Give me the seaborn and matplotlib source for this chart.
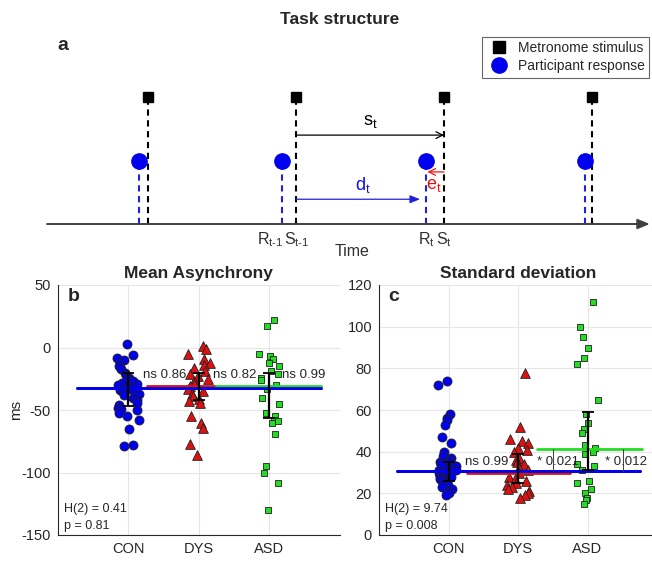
import numpy as np
import pandas as pd
import matplotlib
matplotlib.use("Agg")
import matplotlib.pyplot as plt
import seaborn as sns
from matplotlib.lines import Line2D

# ---------------- data ----------------
groups = ["CON", "DYS", "ASD"]
group_colors = ["#0000ee", "#dd1111", "#22dd22"]
group_markers = ["o", "^", "s"]
group_sizes = [6.5, 7.0, 5.0]

asyn_con = [3, -6, -8, -10, -12, -15, -17, -20, -22, -24, -25, -27, -28, -29, -30, -31,
            -32, -33, -34, -35, -36, -37, -38, -40, -42, -44, -46, -48, -49, -50, -52,
            -55, -58, -65, -78, -79]
asyn_dys = [1, -1, -5, -9, -12, -14, -16, -19, -21, -23, -25, -27, -29, -31, -33, -35,
            -37, -39, -41, -43, -44, -55, -60, -64, -77, -86]
asyn_asd = [22, 17, -5, -7, -9, -12, -15, -19, -21, -24, -26, -30, -33, -40, -45, -52,
            -55, -58, -59, -60, -69, -95, -100, -108, -130]

sd_con = [74, 72, 58, 56, 55, 53, 47, 44, 40, 38, 37, 36, 35, 35, 34, 33, 33, 32, 31,
          31, 30, 30, 29, 29, 28, 28, 27, 27, 26, 25, 24, 23, 22, 21, 20, 19]
sd_dys = [78, 52, 46, 45, 44, 42, 41, 40, 37, 36, 35, 34, 32, 31, 30, 28, 27, 26, 25,
          24, 23, 22, 21, 20, 19, 18]
sd_asd = [112, 100, 95, 90, 85, 82, 65, 58, 54, 51, 49, 43, 42, 40, 39, 34, 33, 31,
          26, 25, 22, 20, 18, 17, 15]

asyn_level = [-32, -30.5, -30.5]
asyn_err_low = [-47, -42, -56]
asyn_err_high = [-20, -20, -20]
asyn_tests = ["ns 0.86", "ns 0.82", "ns 0.99"]
asyn_stat = ["H(2) = 0.41", "p = 0.81"]

sd_level = [30.5, 30.0, 41.5]
sd_err_low = [26, 25, 31]
sd_err_high = [35, 39, 59]
sd_tests = ["ns 0.99", "* 0.021", "* 0.012"]
sd_stat = ["H(2) = 9.74", "p = 0.008"]

# schematic (panel a)
stim_times = [1, 2, 3, 4]
resp_times = [0.94, 1.905, 2.878, 3.953]

# ---------------- style ----------------
sns.set_theme(style="whitegrid")
plt.rcParams["font.family"] = ["Liberation Sans", "DejaVu Sans"]
plt.rcParams["mathtext.fontset"] = "custom"
plt.rcParams["mathtext.rm"] = "Liberation Sans"
plt.rcParams["mathtext.it"] = "Liberation Sans"
plt.rcParams["axes.unicode_minus"] = False

W, H = 652, 561
fig = plt.figure(figsize=(W / 100, H / 100), dpi=100)
fig.patch.set_facecolor("white")

def fx(px):
    return px / W

def fy(py):
    return 1 - py / H

# ---------------- panel a ----------------
axa = fig.add_axes([0, fy(255), 1, (255 - 30) / H])
axa.set_xlim(0, 4.405)
axa.set_ylim(-0.488, 3.055)
axa.axis("off")

for t in stim_times:
    axa.plot([t, t], [0, 2], color="black", lw=1.5, dashes=(3, 2.2), zorder=2)
    axa.plot([t], [2], marker="s", color="black", ms=7.5, zorder=3)
for t in resp_times:
    axa.plot([t, t], [0, 1], color="#2020dd", lw=1.5, dashes=(3, 2.2), zorder=2)
    axa.plot([t], [1], marker="o", color="#0000ee", ms=11, zorder=3)

axa.annotate("", xy=(4.39, 0), xytext=(0.318, 0),
             arrowprops=dict(arrowstyle="-|>,head_length=0.6,head_width=0.25",
                             lw=1.4, color="#404040", shrinkA=0, shrinkB=0))
# s_t
axa.annotate("", xy=(stim_times[2], 1.40), xytext=(stim_times[1], 1.40),
             arrowprops=dict(arrowstyle="->", lw=0.9, color="black", shrinkA=0, shrinkB=0))
axa.text(2.5, 1.48, r"$s_t$", ha="center", va="bottom", fontsize=13, color="black")
# d_t
axa.annotate("", xy=(resp_times[2] - 0.04, 0.39), xytext=(stim_times[1], 0.39),
             arrowprops=dict(arrowstyle="-|>,head_length=0.5,head_width=0.2", lw=0.9,
                             color="#2020dd", shrinkA=0, shrinkB=0))
axa.text(2.45, 0.45, r"$d_t$", ha="center", va="bottom", fontsize=13, color="#1010ee")
# e_t
axa.annotate("", xy=(resp_times[2] + 0.01, 0.82), xytext=(stim_times[2], 0.82),
             arrowprops=dict(arrowstyle="->", lw=0.9, color="#ee1111", shrinkA=0, shrinkB=0))
axa.text(2.93, 0.74, r"$e_t$", ha="center", va="top", fontsize=13, color="#ee1111")

axa.text(stim_times[1] - 0.085, -0.1, r"$R_{t\text{-}1}$", ha="right", va="top", fontsize=11.5, color="#303030")
axa.text(stim_times[1] - 0.08, -0.1, r"$S_{t\text{-}1}$", ha="left", va="top", fontsize=11.5, color="#303030")
axa.text(resp_times[2], -0.1, r"$R_t$", ha="center", va="top", fontsize=11.5, color="#303030")
axa.text(stim_times[2], -0.1, r"$S_t$", ha="center", va="top", fontsize=11.5, color="#303030")
axa.text(2.38, -0.44, "Time", ha="center", va="center", fontsize=11.5, color="#303030")

fig.text(fx(340), fy(19), "Task structure", ha="center", va="center",
         fontsize=12.5, fontweight="bold")
fig.text(fx(57), fy(46), "a", ha="left", va="center", fontsize=14, fontweight="bold")

handles = [Line2D([], [], marker="s", color="black", ls="none", ms=8),
           Line2D([], [], marker="o", color="#0000ee", ls="none", ms=11)]
leg = fig.legend(handles, ["Metronome stimulus", "Participant response"],
                 loc="upper right", bbox_to_anchor=(fx(649), fy(37)),
                 fontsize=10, frameon=True, fancybox=False, edgecolor="#404040",
                 borderpad=0.3, handletextpad=0.5, labelspacing=0.3, handlelength=1.8,
                 borderaxespad=0)
leg.get_frame().set_linewidth(0.8)

# ---------------- panels b and c ----------------
def draw_panel(ax, values, level, err_low, err_high, spans, tests, test_pos, test_y,
               stat, letter, title, ylim, yticks, cmp_lines=None, seed=3):
    rows = []
    for g, vals in zip(groups, values):
        for v in vals:
            rows.append({"group": g, "value": v})
    df = pd.DataFrame(rows)
    np.random.seed(seed)
    for g, c, m, s in zip(groups, group_colors, group_markers, group_sizes):
        sns.stripplot(data=df[df["group"] == g], x="group", y="value", order=groups,
                      marker=m, color=c, size=s, jitter=0.16, linewidth=0.6,
                      edgecolor="#202020", ax=ax, zorder=3)
    for (x0, x1), lv, c in zip(spans, level, group_colors):
        ax.plot([x0, x1], [lv, lv], color=c, lw=2.0, zorder=4)
    ax.plot([spans[0][0], spans[0][1]], [level[0], level[0]], color=group_colors[0], lw=2.0, zorder=4)
    if cmp_lines is not None:
        for xv in cmp_lines:
            ax.plot([xv, xv], [level[0], level[2]], color="#404040", lw=0.7, zorder=4)
    xs = np.arange(len(groups))
    mids = [(a + b) / 2 for a, b in zip(err_low, err_high)]
    halves = [(b - a) / 2 for a, b in zip(err_low, err_high)]
    ax.errorbar(xs, mids, yerr=halves, fmt="none", ecolor="black", elinewidth=1.6,
                capsize=4.5, capthick=1.3, zorder=5)
    for txt, xp in zip(tests, test_pos):
        ax.text(xp, test_y, txt, ha="left", va="center", fontsize=9.5, color="#262626", zorder=6)
    ax.text(0.02, 0.105, stat[0], transform=ax.transAxes, ha="left", va="center",
            fontsize=9, color="#262626")
    ax.text(0.02, 0.035, stat[1], transform=ax.transAxes, ha="left", va="center",
            fontsize=9, color="#262626")
    ax.text(0.035, 0.955, letter, transform=ax.transAxes, ha="left", va="center",
            fontsize=14, fontweight="bold")
    ax.set_xlim(-1, 3)
    ax.set_ylim(*ylim)
    ax.set_yticks(yticks)
    ax.set_xticks(xs)
    ax.set_xticklabels(groups)
    ax.set_xlabel("")
    ax.set_ylabel("")
    ax.set_title(title, fontsize=12.5, fontweight="bold", pad=5)
    ax.grid(True, color="#e6e6e6", lw=0.8)
    ax.set_axisbelow(True)
    for sp in ["top", "right"]:
        ax.spines[sp].set_visible(False)
    for sp in ["left", "bottom"]:
        ax.spines[sp].set_color("#262626")
        ax.spines[sp].set_linewidth(0.8)
    ax.tick_params(axis="both", labelsize=10.5, colors="#262626", length=3,
                   direction="in", pad=5)

axb = fig.add_axes([fx(58), fy(535), (339.5 - 58) / W, (535 - 285) / H])
axb.set_facecolor("white")
draw_panel(axb, [asyn_con, asyn_dys, asyn_asd], asyn_level, asyn_err_low, asyn_err_high,
           [(-0.73, 2.74), (0.26, 1.25), (1.25, 2.74)], asyn_tests, [0.21, 1.2, 2.19], -22,
           asyn_stat, "b", "Mean Asynchrony", (-150, 50), [-150, -100, -50, 0, 50], seed=1)
axb.set_ylabel("ms", fontsize=11, color="#262626")
axb.yaxis.set_label_coords(-0.125, 0.5)

axc = fig.add_axes([fx(379), fy(535), (657 - 379) / W, (535 - 285) / H])
axc.set_facecolor("white")
draw_panel(axc, [sd_con, sd_dys, sd_asd], sd_level, sd_err_low, sd_err_high,
           [(-0.74, 2.75), (0.27, 1.75), (1.27, 2.78)], sd_tests, [0.24, 1.27, 2.25], 35,
           sd_stat, "c", "Standard deviation", (0, 120), [0, 20, 40, 60, 80, 100, 120],
           cmp_lines=[1.5, 2.51], seed=2)

fig.savefig("out.png", dpi=100, facecolor="white")
